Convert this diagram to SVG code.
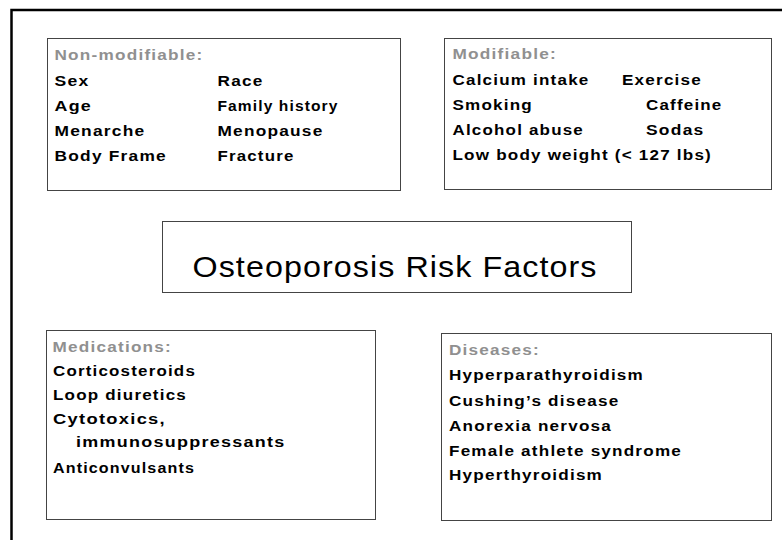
<svg xmlns="http://www.w3.org/2000/svg" width="782" height="540" viewBox="0 0 782 540">
<style>
.box{fill:#fff;stroke:#444;stroke-width:1}
.hd{font-family:"Liberation Sans",Arial,sans-serif;font-size:14px;font-weight:bold;fill:#909090;letter-spacing:1px}
.it{font-family:"Liberation Sans",Arial,sans-serif;font-size:14px;font-weight:bold;fill:#000;letter-spacing:1px}
.title{font-family:"Liberation Sans",Arial,sans-serif;font-size:30px;fill:#000;letter-spacing:1px}
</style>
<rect x="0" y="0" width="782" height="540" fill="#fff"/>
<rect x="11.5" y="10" width="800" height="560" fill="none" stroke="#000" stroke-width="2.5"/>
<g id="connectors"></g>
<g id="non-modifiable">
<rect class="box" x="47.5" y="38.5" width="353" height="152"/>
<text class="hd" x="54.5" y="60" textLength="149" lengthAdjust="spacingAndGlyphs">Non-modifiable:</text>
<text class="it" x="54.5" y="86" textLength="35" lengthAdjust="spacingAndGlyphs">Sex</text>
<text class="it" x="217.5" y="86" textLength="46" lengthAdjust="spacingAndGlyphs">Race</text>
<text class="it" x="54.5" y="111" textLength="37.5" lengthAdjust="spacingAndGlyphs">Age</text>
<text class="it" x="217.5" y="111" textLength="121" lengthAdjust="spacingAndGlyphs">Family history</text>
<text class="it" x="54.5" y="135.5" textLength="91" lengthAdjust="spacingAndGlyphs">Menarche</text>
<text class="it" x="217.5" y="135.5" textLength="106" lengthAdjust="spacingAndGlyphs">Menopause</text>
<text class="it" x="54.5" y="160.5" textLength="112.5" lengthAdjust="spacingAndGlyphs">Body Frame</text>
<text class="it" x="217.5" y="160.5" textLength="77" lengthAdjust="spacingAndGlyphs">Fracture</text>
</g>
<g id="modifiable">
<rect class="box" x="444.5" y="38.5" width="327" height="151"/>
<text class="hd" x="452.5" y="59" textLength="104.5" lengthAdjust="spacingAndGlyphs">Modifiable:</text>
<text class="it" x="452.5" y="85" textLength="137" lengthAdjust="spacingAndGlyphs">Calcium intake</text>
<text class="it" x="622" y="85" textLength="80" lengthAdjust="spacingAndGlyphs">Exercise</text>
<text class="it" x="452.5" y="110" textLength="80.5" lengthAdjust="spacingAndGlyphs">Smoking</text>
<text class="it" x="646" y="110" textLength="76.5" lengthAdjust="spacingAndGlyphs">Caffeine</text>
<text class="it" x="452.5" y="134.5" textLength="131.5" lengthAdjust="spacingAndGlyphs">Alcohol abuse</text>
<text class="it" x="646" y="134.5" textLength="58.5" lengthAdjust="spacingAndGlyphs">Sodas</text>
<text class="it" x="452.5" y="159.5" textLength="259.5" lengthAdjust="spacingAndGlyphs">Low body weight (&lt; 127 lbs)</text>
</g>
<g id="title">
<rect class="box" x="162.5" y="221.5" width="469" height="71"/>
<text class="title" x="192.5" y="277" textLength="405" lengthAdjust="spacingAndGlyphs">Osteoporosis Risk Factors</text>
</g>
<g id="medications">
<rect class="box" x="46.5" y="330.5" width="329" height="189"/>
<text class="hd" x="52.5" y="351.7" textLength="119.5" lengthAdjust="spacingAndGlyphs">Medications:</text>
<text class="it" x="53" y="376" textLength="143" lengthAdjust="spacingAndGlyphs">Corticosteroids</text>
<text class="it" x="53" y="400" textLength="134" lengthAdjust="spacingAndGlyphs">Loop diuretics</text>
<text class="it" x="53" y="423.5" textLength="113" lengthAdjust="spacingAndGlyphs">Cytotoxics,</text>
<text class="it" x="76" y="447" textLength="209.5" lengthAdjust="spacingAndGlyphs">immunosuppressants</text>
<text class="it" x="53" y="472.5" textLength="142" lengthAdjust="spacingAndGlyphs">Anticonvulsants</text>
</g>
<g id="diseases">
<rect class="box" x="441.5" y="333.5" width="330" height="187"/>
<text class="hd" x="449" y="355" textLength="91" lengthAdjust="spacingAndGlyphs">Diseases:</text>
<text class="it" x="449" y="380" textLength="195" lengthAdjust="spacingAndGlyphs">Hyperparathyroidism</text>
<text class="it" x="449" y="405.5" textLength="170.5" lengthAdjust="spacingAndGlyphs">Cushing’s disease</text>
<text class="it" x="449" y="430.5" textLength="163" lengthAdjust="spacingAndGlyphs">Anorexia nervosa</text>
<text class="it" x="449" y="456" textLength="233" lengthAdjust="spacingAndGlyphs">Female athlete syndrome</text>
<text class="it" x="449" y="480" textLength="154" lengthAdjust="spacingAndGlyphs">Hyperthyroidism</text>
</g>
</svg>
